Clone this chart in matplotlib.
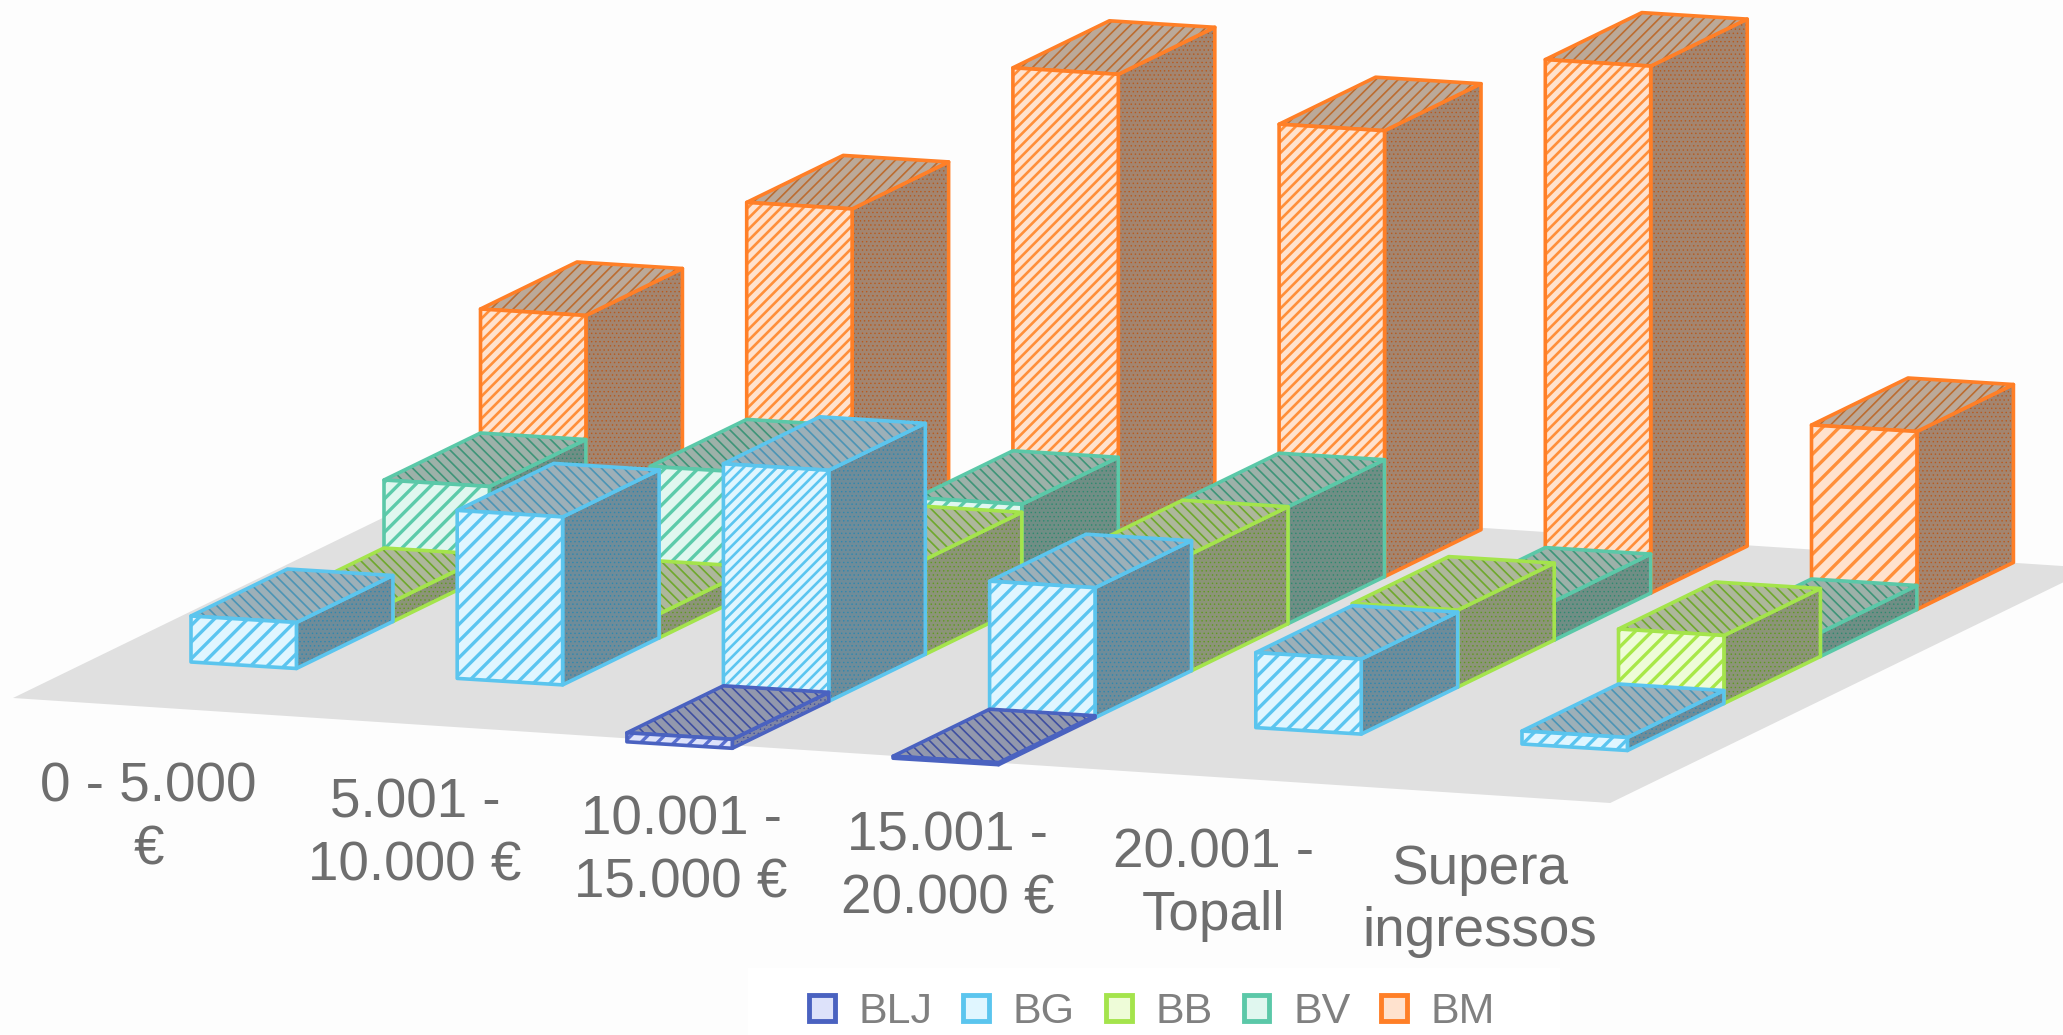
import matplotlib
matplotlib.use("Agg")
import matplotlib.pyplot as plt
from matplotlib.patches import Polygon, Patch, Rectangle

categories = ["0 - 5.000\n€", "5.001 -\n10.000 €", "10.001 -\n15.000 €",
              "15.001 -\n20.000 €", "20.001 -\nTopall", "Supera\ningressos"]
series = ["BLJ", "BG", "BB", "BV", "BM"]
BLJ = [0, 0, 1.8, 0.4, 0, 0]
BG = [9.2, 33.6, 46.2, 26.0, 15.0, 2.6]
BB = [4.0, 4.8, 19.0, 23.4, 15.4, 13.6]
BV = [17.6, 23.6, 20.6, 23.4, 7.8, 4.8]
BM = [42.4, 67.0, 97.2, 89.2, 105.4, 35.6]
values = [BLJ, BG, BB, BV, BM]

edge = ["#4A62C0", "#5BC5EE", "#A4E44C", "#5BC8A8", "#FF7F27"]
front = ["#DDE2FA", "#E0F6FF", "#EEFCD8", "#E0F7EF", "#FFE2CE"]
front_h = ["#5A70D0", "#5BC5F0", "#A8E848", "#5CCBAA", "#FF8F3A"]
side = ["#7F86A6", "#6F8C99", "#8C9478", "#708E85", "#A38570"]
side_h = ["#3F4FA0", "#2E88B0", "#5E9A20", "#2E8A70", "#B85A1E"]
top = ["#9298AD", "#9DB0B8", "#AEB79C", "#9DB1A9", "#BBA999"]
top_h = ["#3F4FA0", "#4C94B5", "#6EA82C", "#3E9478", "#BC6C30"]

plt.rcParams["font.family"] = ["Liberation Sans", "DejaVu Sans"]

W, H = 2063, 1035
fig = plt.figure(figsize=(W / 100, H / 100), dpi=100, facecolor="#FDFDFD")
ax = fig.add_axes([0, 0, 1, 1])
ax.set_xlim(0, W)
ax.set_ylim(H, 0)
ax.axis("off")

# oblique projection: category, series, value -> picture plane
ORIGIN = (94.5, 709.0)
CAT = (266.2, 16.4)
SER = (96.5, -47.0)
BAR_W = 0.396
V_PX = 5.0


def proj(c, s, v=0.0):
    return (ORIGIN[0] + c * CAT[0] + s * SER[0],
            ORIGIN[1] + c * CAT[1] + s * SER[1] - v * V_PX)


def face(pts, fc, hc, hatch, hlw, ec, z):
    ax.add_patch(Polygon(pts, closed=True, facecolor=fc, edgecolor="none", zorder=z))
    plt.rcParams["hatch.linewidth"] = hlw
    ax.add_patch(Polygon(pts, closed=True, facecolor="none", edgecolor=hc,
                         hatch=hatch, linewidth=0, zorder=z + 0.1))
    ax.add_patch(Polygon(pts, closed=True, facecolor="none", edgecolor=ec,
                         linewidth=2.6, joinstyle="round", zorder=z + 0.2))


# floor
f0 = (13, 698)
fu = (6 * 266.2, 6 * 17.5)
fv = (5 * 96.5, 5 * -47.0)
ax.add_patch(Polygon([f0, (f0[0] + fu[0], f0[1] + fu[1]),
                      (f0[0] + fu[0] + fv[0], f0[1] + fu[1] + fv[1]),
                      (f0[0] + fv[0], f0[1] + fv[1])],
                     closed=True, facecolor="#E0E0E0", edgecolor="none", zorder=1))

z = 2
for s in range(len(series) - 1, -1, -1):
    for c, v in enumerate(values[s]):
        if v <= 0:
            continue
        x0, x1 = c, c + BAR_W
        s0, s1 = s, s + 1
        face([proj(x1, s0), proj(x1, s1), proj(x1, s1, v), proj(x1, s0, v)],
             side[s], side_h[s], "....", 0.5, edge[s], z)
        face([proj(x0, s0, v), proj(x1, s0, v), proj(x1, s1, v), proj(x0, s1, v)],
             top[s], top_h[s], "///" if s == 4 else "\\\\\\", 1.2, edge[s], z + 1)
        tall = v * V_PX > 200
        face([proj(x0, s0), proj(x1, s0), proj(x1, s0, v), proj(x0, s0, v)],
             front[s], front_h[s], "///" if tall else "//", 1.9 if tall else 2.4, edge[s], z + 2)
        z += 3

for c, label in enumerate(categories):
    ax.text(148.7 + c * CAT[0], 819 + c * 16.4, label, ha="center", va="center",
            fontsize=39.5, color="#6E6E6E", linespacing=1.27, zorder=z)

ax.add_patch(Rectangle((748, 968), 812, 67, facecolor="white", edgecolor="none", zorder=z))

handles = [Patch(facecolor=front[i], edgecolor=edge[i], linewidth=3.5, label=series[i])
           for i in range(len(series))]
leg = ax.legend(handles=handles, ncol=5, loc="center", bbox_to_anchor=(1152 / W, 1 - 1012 / H),
                bbox_transform=ax.transAxes, frameon=False, fontsize=31, labelcolor="#808080",
                handlelength=0.6, handleheight=0.55, handletextpad=0.55, columnspacing=0.72,
                borderpad=0.3)
leg.set_zorder(z + 1)

fig.savefig("out.png", dpi=100, facecolor=fig.get_facecolor())
